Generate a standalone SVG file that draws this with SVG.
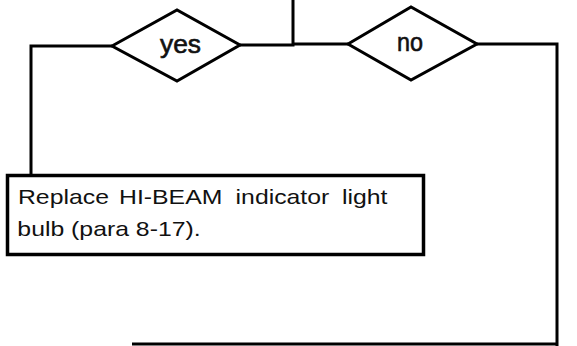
<svg xmlns="http://www.w3.org/2000/svg" width="577" height="346" viewBox="0 0 577 346">
<style>
.ln{fill:none;stroke:#000;stroke-width:3;stroke-linejoin:miter}
.dm{fill:#fff;stroke:#000;stroke-width:3}
.lbl{font-family:"Liberation Sans",Arial,sans-serif;font-size:25px;fill:#111;stroke:#111;stroke-width:0.6}
.txt{font-family:"Liberation Sans",Arial,sans-serif;font-size:20px;fill:#111}
</style>
<rect width="577" height="346" fill="#fff"/>
<g id="connectors">
<polyline class="ln" points="293,0 293,45 240,45"/>
<polyline class="ln" points="293,44 348,44"/>
<polyline class="ln" points="112,46 31,46 31,175"/>
<polyline class="ln" points="477,44 557,44 557,346"/>
<polyline class="ln" points="132,344 557,344"/>
</g>
<g id="yes">
<polygon class="dm" points="112,46 177,10 240,45 177,81"/>
<text class="lbl" x="160" y="53" textLength="41" lengthAdjust="spacingAndGlyphs">yes</text>
</g>
<g id="no">
<polygon class="dm" points="348,44 411,7 477,44 411,80"/>
<text class="lbl" x="397" y="51" textLength="26" lengthAdjust="spacingAndGlyphs">no</text>
</g>
<g id="replace">
<rect x="7.5" y="175.5" width="416" height="79" fill="#fff" stroke="#000" stroke-width="3.5"/>
<g transform="scale(1.24,1)">
<text class="txt" y="204"><tspan x="14.5">Replace</tspan><tspan x="96">HI-BEAM</tspan><tspan x="190">indicator</tspan><tspan x="275.8">light</tspan></text>
<text class="txt" x="14" y="236">bulb (para 8-17).</text>
</g>
</g>
</svg>
